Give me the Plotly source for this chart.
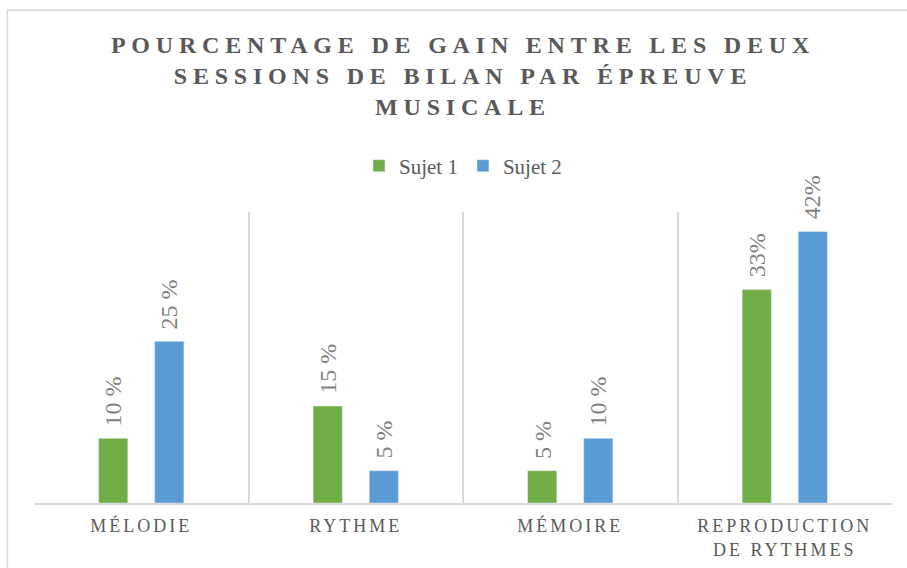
import plotly.graph_objects as go

categories = ["MÉLODIE", "RYTHME", "MÉMOIRE", "REPRODUCTION<br>DE RYTHMES"]
sujet1 = [10, 15, 5, 33]
sujet2 = [25, 5, 10, 42]
labels1 = ["10 %", "15 %", "5 %", "33%"]
labels2 = ["25 %", "5 %", "10 %", "42%"]
series_names = ["Sujet 1", "Sujet 2"]
title_text = "POURCENTAGE DE GAIN ENTRE LES DEUX<br>SESSIONS DE BILAN PAR ÉPREUVE<br>MUSICALE"

GREEN = "#70AD47"
BLUE = "#5B9BD5"
GREY = "#595959"
SERIF = "Liberation Serif"

fig = go.Figure()
fig.add_trace(go.Bar(x=categories, y=sujet1, name=series_names[0], marker_color=GREEN))
fig.add_trace(go.Bar(x=categories, y=sujet2, name=series_names[1], marker_color=BLUE))

for vals, labs, shift in ((sujet1, labels1, -28), (sujet2, labels2, 28)):
    for c, v, t in zip(categories, vals, labs):
        fig.add_annotation(x=c, y=v, text=t, showarrow=False, textangle=-90,
                           xshift=shift, yshift=10, yanchor="bottom", xanchor="center",
                           font=dict(family=SERIF, size=24, color="#7f7f7f"))

fig.add_shape(type="rect", xref="paper", yref="paper", x0=-0.031, x1=1.05, y0=-0.4, y1=1.693,
              line=dict(color="#d9d9d9", width=1.5), fillcolor="rgba(0,0,0,0)")

fig.update_layout(
    width=907, height=568,
    margin=dict(l=34, r=15, t=212, b=65),
    paper_bgcolor="white", plot_bgcolor="white",
    barmode="group", bargap=0.477, bargroupgap=0.48,
    title=dict(text=title_text, x=0.5, xref="paper", xanchor="center",
               y=0.907, yref="container", yanchor="top",
               font=dict(family=SERIF, size=24, color=GREY, weight="bold")),
    legend=dict(orientation="h", x=0.5, xanchor="center", y=1.158, yanchor="middle",
                font=dict(family=SERIF, size=21, color=GREY), traceorder="normal"),
    xaxis=dict(type="category", tickson="boundaries", showgrid=True, gridcolor="#d9d9d9",
               gridwidth=1.5, showline=True, linecolor="#d9d9d9", linewidth=1.5,
               ticks="outside", ticklen=10, tickcolor="rgba(0,0,0,0)", ticklabelstandoff=6,
               automargin=False,
               tickfont=dict(family=SERIF, size=18, color=GREY), tickangle=0),
    yaxis=dict(range=[0, 45], visible=False, showgrid=False, zeroline=False),
    showlegend=True,
)

post = """
document.body.style.margin='0';
var gd = document.getElementById('{plot_id}');
function ls(){
  gd.querySelectorAll('.gtitle').forEach(function(e){e.style.letterSpacing='5.8px';});
  gd.querySelectorAll('.xtick text').forEach(function(e){e.style.letterSpacing='3px';});
}
ls();
gd.on('plotly_afterplot', ls);
"""

fig.write_html("out.html", post_script=post, config={"displayModeBar": False})
